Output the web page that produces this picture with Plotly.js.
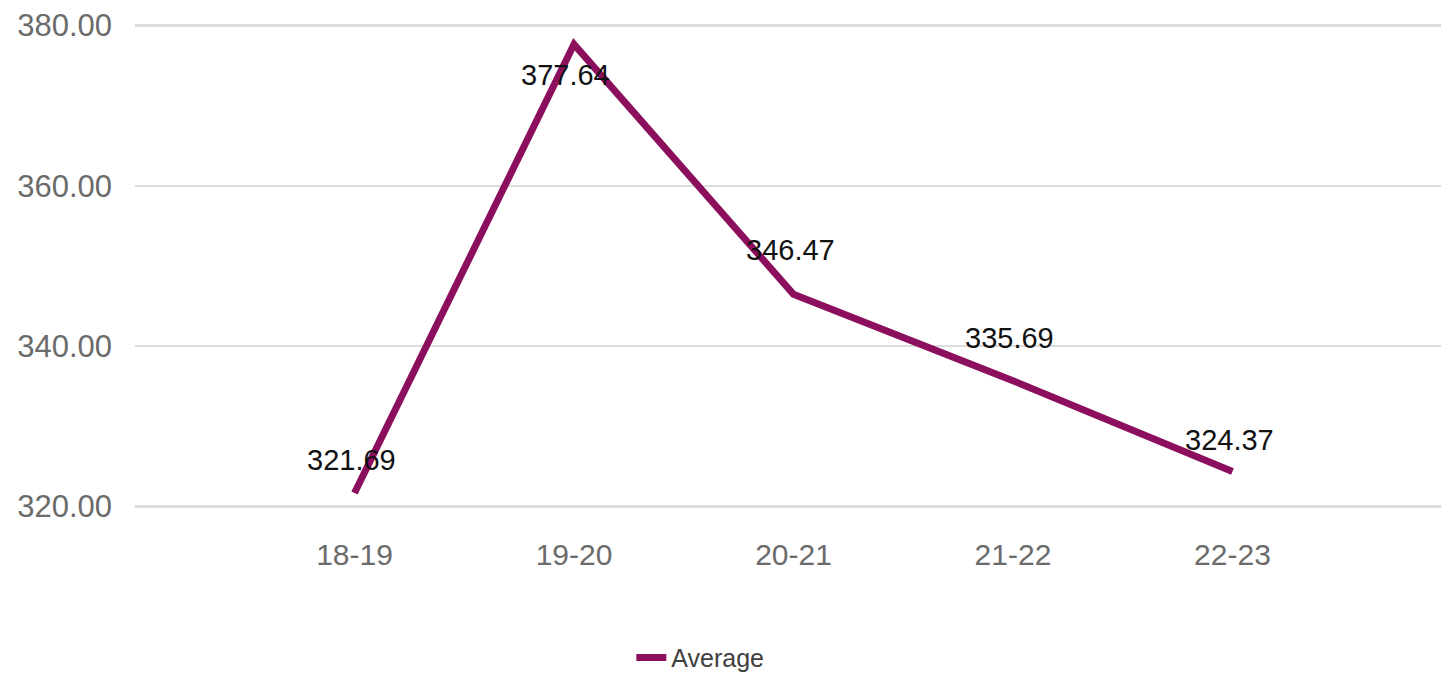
<!DOCTYPE html>
<html>
<head>
<meta charset="utf-8">
<script src="https://cdn.plot.ly/plotly-3.0.1.min.js"></script>
<style>html,body{margin:0;padding:0;background:#fff;}#chart{width:1441px;height:674px;}</style>
</head>
<body>
<div id="chart"></div>
<script>
const categories = ["18-19", "19-20", "20-21", "21-22", "22-23"];
const averageValues = [321.69, 377.64, 346.47, 335.69, 324.37];
const yTickValues = [320, 340, 360, 380];
const yTickLabels = ["320.00", "340.00", "360.00", "380.00"];
const seriesName = "Average";

const labelShift = [33, -31, 44, 43, 32];

const annotations = categories.map((c, i) => ({
  x: c, y: averageValues[i], xref: 'x', yref: 'y',
  text: averageValues[i].toFixed(2), showarrow: false,
  yshift: labelShift[i], xshift: i === 1 ? -8 : -3,
  font: {family: 'Liberation Sans, Arial, sans-serif', size: 29, color: '#111111'}
}));

const trace = {
  x: categories, y: averageValues, type: 'scatter', mode: 'lines',
  name: seriesName,
  line: {color: '#8C0F5E', width: 7},
  hoverinfo: 'skip'
};

const layout = {
  width: 1441, height: 674,
  margin: {l: 135, r: 0, t: 22.6, b: 164.6, pad: 0},
  paper_bgcolor: '#ffffff', plot_bgcolor: '#ffffff',
  showlegend: true,
  legend: {orientation: 'h', xref: 'container', yref: 'container',
    x: 0.486, xanchor: 'center', y: 0.024, yanchor: 'middle',
    font: {family: 'Liberation Sans, Arial, sans-serif', size: 25, color: '#404040'}},
  xaxis: {type: 'category', range: [-1, 4.95], showgrid: false, zeroline: false,
    showline: false, ticks: '', ticklabelstandoff: 25, automargin: false,
    tickfont: {family: 'Liberation Sans, Arial, sans-serif', size: 30, color: '#6b6b6b'}},
  yaxis: {range: [319.7, 380.3], tickvals: yTickValues, ticktext: yTickLabels,
    showgrid: true, gridcolor: '#dcdcdc', gridwidth: 2.5, zeroline: false,
    showline: false, ticks: '', ticklabelstandoff: 22, automargin: false,
    tickfont: {family: 'Liberation Sans, Arial, sans-serif', size: 31, color: '#6b6b6b'}},
  annotations: annotations
};

Plotly.newPlot('chart', [trace], layout, {displayModeBar: false, staticPlot: true});
</script>
</body>
</html>
